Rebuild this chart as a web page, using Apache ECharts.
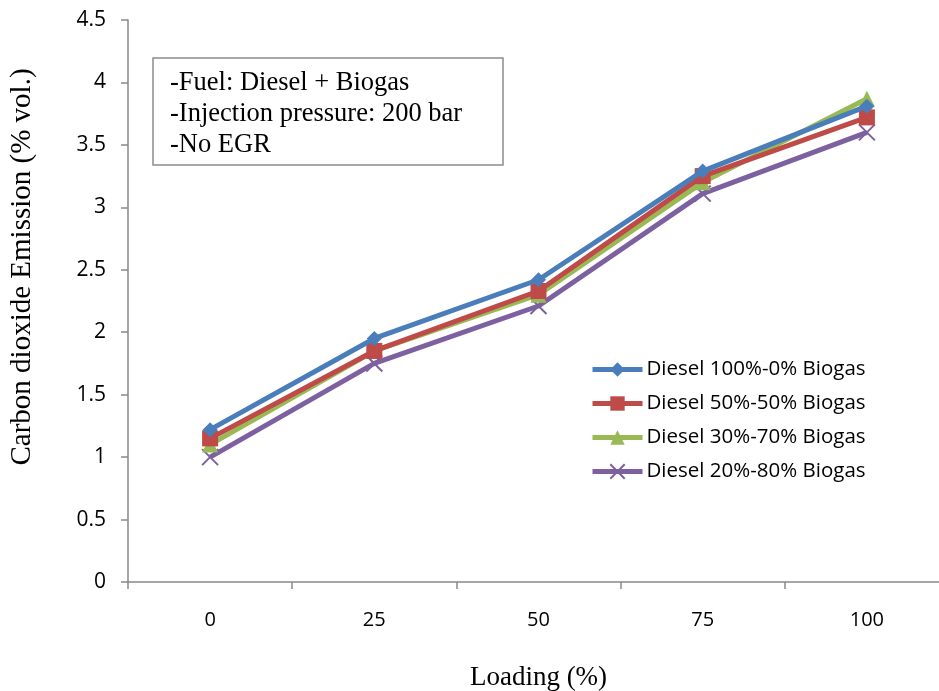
<!DOCTYPE html>
<html>
<head>
<meta charset="utf-8">
<script src="https://cdn.jsdelivr.net/npm/echarts@6/dist/echarts.min.js"></script>
<style>
html, body { margin: 0; padding: 0; background: #fff; }
#main { width: 939px; height: 691px; }
</style>
</head>
<body>
<div id="main"></div>
<script>
const categories = ['0', '25', '50', '75', '100'];
const seriesNames = [
    'Diesel 100%-0% Biogas',
    'Diesel 50%-50% Biogas',
    'Diesel 30%-70% Biogas',
    'Diesel 20%-80% Biogas',
];
const diesel100 = [1.22, 1.95, 2.42, 3.29, 3.81];
const diesel50 = [1.15, 1.85, 2.33, 3.25, 3.72];
const diesel30 = [1.10, 1.85, 2.30, 3.20, 3.87];
const diesel20 = [1.00, 1.75, 2.21, 3.11, 3.60];
const noteLines = ['-Fuel: Diesel + Biogas', '-Injection pressure: 200 bar', '-No EGR'];
const yName = 'Carbon dioxide Emission (% vol.)';

const colors = ['#4A7EBB', '#BE4B48', '#98B954', '#7D60A0'];
const crossPath = 'path://M0,0L10,10M10,0L0,10';
const symbols = ['diamond', 'rect', 'triangle', crossPath];
const symbolSizes = [15, 16, 16, 16];
const allData = [diesel100, diesel50, diesel30, diesel20];

const chart = echarts.init(document.getElementById('main'));

const series = allData.map((d, i) => ({
    name: seriesNames[i],
    type: 'line',
    data: d,
    symbol: symbols[i],
    symbolSize: symbolSizes[i],
    lineStyle: { color: colors[i], width: 5 },
    itemStyle: i === 3
        ? { color: 'none', borderColor: colors[i], borderWidth: 2 }
        : { color: colors[i] },
    z: 10 - i,
}));

chart.setOption({
    animation: false,
    // plot runs past the right edge in the original, so fix width explicitly
    grid: { left: 128, width: 821, top: 20, bottom: 109, outerBoundsMode: 'none', containLabel: false },
    legend: {
        orient: 'vertical',
        left: 585,
        top: 354,
        itemWidth: 50,
        itemHeight: 18,
        itemGap: 13,
        lineStyle: { width: 5 },
        textStyle: { fontFamily: 'Open Sans', fontSize: 20.5, color: '#000', padding: [0, 0, 0, -1] },
        data: seriesNames,
    },
    xAxis: {
        type: 'category',
        data: categories,
        boundaryGap: true,
        name: 'Loading (%)',
        nameLocation: 'middle',
        nameGap: 82,
        nameTextStyle: { fontFamily: 'Liberation Serif', fontSize: 27, color: '#000' },
        axisLine: { lineStyle: { color: '#898989', width: 1.5 } },
        axisTick: { show: true, length: 7, lineStyle: { color: '#898989', width: 1.5 } },
        axisLabel: { fontFamily: 'Open Sans', fontSize: 20, color: '#000', margin: 28 },
        splitLine: { show: false },
    },
    yAxis: {
        type: 'value',
        min: 0,
        max: 4.5,
        interval: 0.5,
        axisLine: { show: true, lineStyle: { color: '#898989', width: 1.5 } },
        axisTick: { show: true, length: 7, lineStyle: { color: '#898989', width: 1.5 } },
        axisLabel: { fontFamily: 'Open Sans', fontSize: 21, color: '#000', margin: 22 },
        splitLine: { show: false },
    },
    graphic: [
        {
            type: 'rect',
            shape: { x: 153, y: 58, width: 350, height: 107 },
            style: { fill: '#fff', stroke: '#8c8c8c', lineWidth: 1.5 },
        },
        {
            type: 'text',
            left: 170,
            top: 68,
            style: {
                text: noteLines.join('\n'),
                fontFamily: 'Liberation Serif',
                fontSize: 26.5,
                lineHeight: 31,
                fill: '#000',
            },
        },
        {
            type: 'text',
            x: 22,
            y: 267,
            rotation: Math.PI / 2,
            style: {
                text: yName,
                fontFamily: 'Liberation Serif',
                fontSize: 29,
                fill: '#000',
                align: 'center',
                verticalAlign: 'middle',
            },
        },
    ],
    series,
});
</script>
</body>
</html>
